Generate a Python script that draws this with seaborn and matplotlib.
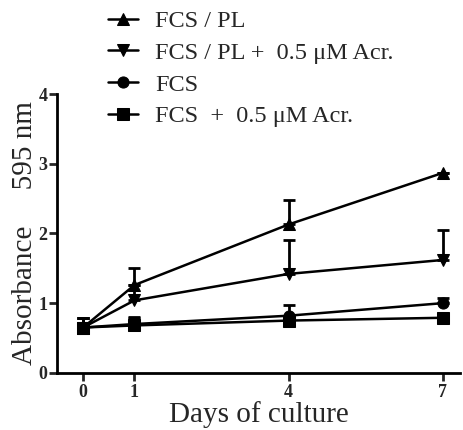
import numpy as np
import pandas as pd
import seaborn as sns
import matplotlib.pyplot as plt

# values
days = [0, 1, 4, 7]
groups = ["FCS / PL", "FCS / PL +  0.5 \u03bcM Acr.", "FCS", "FCS  +  0.5 \u03bcM Acr."]
fcs_pl = [0.65, 1.26, 2.13, 2.87]
fcs_pl_err = [0.13, 0.24, 0.35, 0.0]
fcs_pl_acr = [0.65, 1.04, 1.42, 1.62]
fcs_pl_acr_err = [0.13, 0.22, 0.49, 0.43]
fcs = [0.65, 0.70, 0.82, 1.00]
fcs_err = [0.13, 0.10, 0.15, 0.08]
fcs_acr = [0.65, 0.68, 0.75, 0.79]
fcs_acr_err = [0.13, 0.10, 0.05, 0.02]
markers = ["^", "v", "o", "s"]

vals = [fcs_pl, fcs_pl_acr, fcs, fcs_acr]
errs = [fcs_pl_err, fcs_pl_acr_err, fcs_err, fcs_acr_err]

df = pd.DataFrame({
    "day": days * 4,
    "abs": np.concatenate(vals),
    "group": np.repeat(groups, len(days)),
})

sns.set_style("ticks")
plt.rcParams["font.family"] = ["Liberation Serif", "DejaVu Serif"]

fig = plt.figure(figsize=(4.64, 4.30), dpi=100)
ax = fig.add_axes([0.123, 0.133, 0.868, 0.648])

for g, v, e in zip(groups, vals, errs):
    ax.errorbar(days, v, yerr=[np.zeros(len(e)), e], fmt="none", ecolor="black",
                elinewidth=2, capsize=4, capthick=2, zorder=2)

sns.lineplot(data=df, x="day", y="abs", hue="group", style="group",
             palette=["black"] * 4, markers=markers, dashes=False,
             markersize=8, linewidth=1.8, markeredgecolor="black",
             ax=ax, zorder=3)

handles, labels = ax.get_legend_handles_labels()
ax.legend(handles, labels, loc="upper left", bbox_to_anchor=(0.222, 0.988),
          bbox_transform=fig.transFigure, frameon=False, fontsize=17.5,
          handlelength=1.25, handletextpad=0.7, labelspacing=0.4,
          borderpad=0.2, borderaxespad=0)

ax.set_xlim(-0.506, 7.33)
ax.set_ylim(0, 4)
ax.set_xticks(days)
ax.set_yticks([0, 1, 2, 3, 4])
ax.tick_params(width=2, length=6, labelsize=13, pad=2)
ax.tick_params(axis="y", pad=1)
for t in ax.get_xticklabels() + ax.get_yticklabels():
    t.set_fontweight("bold")
ax.set_xlabel("Days of culture", fontsize=21, labelpad=0)
ax.set_ylabel("Absorbance     595 nm", fontsize=21, labelpad=0)
for s in ["left", "bottom"]:
    ax.spines[s].set_linewidth(2)
    ax.spines[s].set_color("black")
sns.despine(ax=ax)

fig.savefig("out.png", dpi=100)
